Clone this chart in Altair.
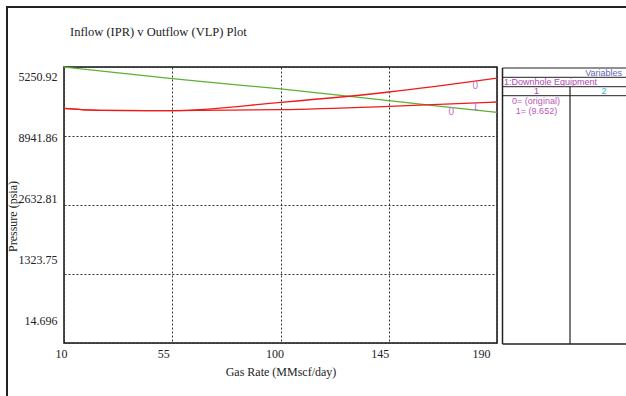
import altair as alt
import pandas as pd

# ---- data ----
ipr_rate = [10, 55, 100, 145, 190]
ipr_p = [5250.92, 5029, 4834, 4612, 4390]

vlp_rate = [10, 25, 55, 100, 145, 190]
vlp0_p = [4466, 4428, 4422, 4579, 4777, 5042]
vlp1_p = [4466, 4428, 4422, 4441, 4504, 4587]

curve_label_rate = [181, 181, 171]
curve_label_p = [4896, 4484, 4397]
curve_label_text = ["0", "1", "0"]

x_ticks = [10, 55, 100, 145, 190]
y_ticks = [14.696, 1323.752, 2632.808, 3941.864, 5250.92]
y_tick_labels = ["14.696", "1323.75", "2632.81", "8941.86", "5250.92"]

# ---- tables ----
rows = []
for r, p in zip(ipr_rate, ipr_p):
    rows.append({"rate": r, "p": p, "series": "IPR"})
for r, p in zip(vlp_rate, vlp0_p):
    rows.append({"rate": r, "p": p, "series": "VLP0"})
for r, p in zip(vlp_rate, vlp1_p):
    rows.append({"rate": r, "p": p, "series": "VLP1"})
curves = pd.DataFrame(rows)
labels = pd.DataFrame({"rate": curve_label_rate, "p": curve_label_p, "t": curve_label_text})
one = pd.DataFrame({"a": [0]})

SERIF = "Liberation Serif"
SANS = "Liberation Sans"
XT = "Gas Rate (MMscf/day)"
YT = "Pressure (psia)"

keys = [round(v) for v in y_ticks]
y_label_expr = "[" + ",".join("'%s'" % s for s in y_tick_labels) + "][indexof([" + ",".join(str(k) for k in keys) + "], round(datum.value))]"
y_offsets = [-23, -15, -7, 1, 9]
y_label_offset = {"condition": [{"test": "round(datum.value) == %d" % k, "value": o} for k, o in zip(keys, y_offsets)], "value": 0}
x_offsets = [-3, -9, -6, -9, -16]
x_label_offset = {"condition": [{"test": "datum.value == %d" % k, "value": o} for k, o in zip(x_ticks, x_offsets)], "value": 0}

xscale = alt.Scale(domain=[10, 190], nice=False, zero=False)
yscale = alt.Scale(domain=[14.696, 5250.92], nice=False, zero=False)

xaxis = alt.Axis(values=x_ticks, grid=True, gridDash=[2, 2], gridColor="#333", gridWidth=1,
                 ticks=False, domain=False, labelFont=SERIF, labelFontSize=12, labelColor="#222",
                 labelPadding=10, labelBaseline="middle", labelOffset=x_label_offset,
                 labelFlush=False, labelOverlap=False,
                 title=XT, titleFont=SERIF, titleFontSize=12, titleFontWeight="normal",
                 titleColor="#222", titleY=28, titleBaseline="middle")
yaxis = alt.Axis(values=y_ticks, grid=True, gridDash=[2, 2], gridColor="#333", gridWidth=1,
                 ticks=False, domain=False, labelFont=SERIF, labelFontSize=12, labelColor="#222",
                 labelPadding=7, labelBaseline="middle", labelExpr=y_label_expr,
                 labelOffset=y_label_offset, labelFlush=False, labelOverlap=False,
                 title=YT, titleFont=SERIF, titleFontSize=12, titleFontWeight="normal",
                 titleColor="#222", titleX=-52, titleY=149, titleAngle=270, titleBaseline="middle")

lines = alt.Chart(curves).mark_line(strokeWidth=1.3, interpolate="monotone").encode(
    x=alt.X("rate:Q", scale=xscale, axis=xaxis, title=XT),
    y=alt.Y("p:Q", scale=yscale, axis=yaxis, title=YT),
    color=alt.Color("series:N", scale=alt.Scale(domain=["IPR", "VLP0", "VLP1"],
                                                 range=["#5cb034", "#f01a1a", "#f01a1a"]), legend=None),
    detail="series:N",
)

curve_labels = alt.Chart(labels).mark_text(font=SANS, fontSize=10, color="#c070c4").encode(
    x=alt.X("rate:Q", scale=xscale, title=XT),
    y=alt.Y("p:Q", scale=yscale, title=YT),
    text="t:N",
)

def rule(x1, y1, x2, y2, w=1.0, c="#222"):
    return alt.Chart(one).mark_rule(strokeWidth=w, color=c).encode(
        x=alt.value(x1), x2=alt.value(x2), y=alt.value(y1), y2=alt.value(y2))

def text(s, x, y, color, align="left", font=SANS, size=9):
    return alt.Chart(one).mark_text(text=s, font=font, fontSize=size, color=color,
                                    align=align, baseline="middle").encode(
        x=alt.value(x), y=alt.value(y))

# plot origin is at (64, 67) in the page
deco = [
    # outer frame
    rule(-57, -60, -57, 340, 2),
    rule(-58, -60, 580, -60, 2),
    # right panel
    rule(438.5, 1, 438.5, 277, 1.5),
    rule(438.5, 1, 580, 1, 1.2),
    rule(438.5, 10.3, 580, 10.3, 1),
    rule(438.5, 19.7, 580, 19.7, 1),
    rule(438.5, 28.7, 580, 28.7, 1),
    rule(438.5, 277, 580, 277, 1.5),
    rule(506, 19.7, 506, 277, 1.2),
    text("Variables", 558, 5.7, "#6464b4", align="right"),
    text("1:Downhole Equipment", 440, 15, "#b048b0"),
    text("1", 472.5, 24.2, "#b048b0", align="center"),
    text("2", 540, 24.2, "#20c0c8", align="center"),
    text("0= (original)", 472, 33.7, "#b858b8", align="center"),
    text("1= (9.652)", 472.5, 43.7, "#b858b8", align="center"),
    # title
    text("Inflow (IPR) v Outflow (VLP) Plot", 6, -35, "#222", font=SERIF, size=12.5),
]

chart = alt.layer(lines, curve_labels, *deco).properties(
    width=433, height=276,
    autosize=alt.AutoSizeParams(type="none"),
    padding={"left": 64, "top": 67, "right": 129, "bottom": 53},
    background="white",
).configure_view(stroke="#111", strokeWidth=1.5)

chart.save("out.html", embed_options={"renderer": "svg", "actions": False})
